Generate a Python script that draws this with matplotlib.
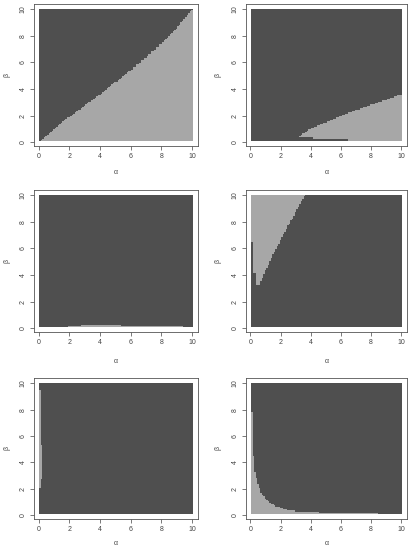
import numpy as np
import matplotlib
matplotlib.use("Agg")
import matplotlib.pyplot as plt
from matplotlib.path import Path
from matplotlib.colors import ListedColormap

# grid of (alpha, beta) points, 0.1 .. 10
alpha_grid = np.arange(1, 101) / 10.0
beta_grid = np.arange(1, 101) / 10.0

# outlines of the light region in each panel
light_1 = [(0.05, 0.05), (0.15, 0.15), (2.0, 1.9), (4.0, 3.6), (6.0, 5.4),
           (8.0, 7.4), (9.0, 8.6), (10.05, 10.05), (10.05, 0.05)]
light_2 = [(3.25, 0.42), (4.0, 0.98), (5.0, 1.49), (6.0, 1.99), (7.0, 2.42),
           (8.0, 2.82), (9.0, 3.2), (10.05, 3.6), (10.05, 0.05), (6.45, 0.05),
           (6.45, 0.25), (4.15, 0.25), (4.15, 0.35), (3.25, 0.35)]
light_3 = [(1.95, 0.05), (9.45, 0.05), (9.45, 0.15), (5.35, 0.15), (5.35, 0.25),
           (2.75, 0.25), (2.75, 0.15), (1.95, 0.15)]
light_4 = [(0.05, 6.45), (0.05, 10.05), (3.65, 10.05), (3.0, 8.7), (2.5, 7.7),
           (2.0, 6.6), (1.5, 5.5), (1.0, 4.3), (0.6, 3.25), (0.35, 3.25),
           (0.35, 4.15), (0.15, 4.15), (0.15, 6.45)]
light_5 = [(0.05, 2.05), (0.05, 9.45), (0.15, 9.45), (0.15, 5.35), (0.25, 5.35),
           (0.25, 2.75), (0.15, 2.75), (0.15, 2.05)]
light_6 = [(0.05, 0.05), (0.05, 7.85), (0.15, 7.85), (0.15, 4.45), (0.25, 4.45),
           (0.3, 3.3), (0.48, 2.46), (0.7, 1.7), (1.13, 1.08), (1.67, 0.7),
           (2.54, 0.35), (3.4, 0.25), (4.6, 0.2), (4.65, 0.15), (8.45, 0.15),
           (8.45, 0.05)]
regions = [light_1, light_2, light_3, light_4, light_5, light_6]

ticks = [0, 2, 4, 6, 8, 10]
cmap = ListedColormap(["#4f4f4f", "#a7a7a7"])

W, H = 413, 550
# axes boxes in pixels: left, top, right, bottom
boxes = [(34, 4, 198, 146), (246, 4, 407, 146),
         (34, 190, 198, 332), (246, 190, 407, 332),
         (34, 378, 198, 519), (246, 378, 407, 519)]
xlab_y = [-0.162, -0.162, -0.186, -0.186, -0.148, -0.148]

fig = plt.figure(figsize=(W / 100, H / 100), dpi=100)
plt.rcParams['font.family'] = ['Liberation Sans', 'DejaVu Sans']

A, B = np.meshgrid(alpha_grid, beta_grid)
pts = np.column_stack([A.ravel(), B.ravel()])
a_edges = np.append(alpha_grid - 0.05, alpha_grid[-1] + 0.05)
b_edges = np.append(beta_grid - 0.05, beta_grid[-1] + 0.05)

for i, poly in enumerate(regions):
    l, t, r, b = boxes[i]
    ax = fig.add_axes([l / W, 1 - b / H, (r - l) / W, (b - t) / H])
    inside = Path(poly).contains_points(pts).reshape(A.shape)
    ax.pcolormesh(a_edges, b_edges, inside.astype(int), cmap=cmap,
                  vmin=0, vmax=1, shading='flat')
    ax.set_xlim(-0.296, 10.396)
    ax.set_ylim(-0.296, 10.396)
    ax.set_xticks(ticks)
    ax.set_yticks(ticks)
    ax.tick_params(axis='both', direction='out', length=3, width=0.5,
                   colors='#444444', labelsize=5, pad=1.8)
    ax.tick_params(axis='y', labelrotation=90, pad=2.2)
    for lab in ax.get_yticklabels():
        lab.set_va('center')
    for sp in ax.spines.values():
        sp.set_color('#555555')
        sp.set_linewidth(0.6)
    ax.set_xlabel('α', fontsize=5, color='#444444')
    ax.set_ylabel('β', fontsize=5, color='#444444')
    ax.xaxis.set_label_coords(0.5, xlab_y[i])
    ax.yaxis.set_label_coords(-0.143 if i % 2 == 0 else -0.155, 0.5)

fig.savefig("out.png", dpi=100)
